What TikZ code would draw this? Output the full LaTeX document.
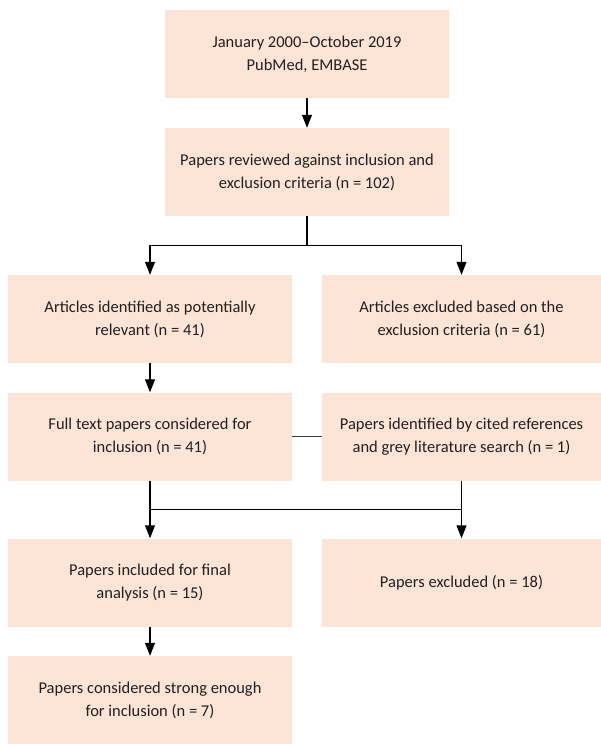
\documentclass[tikz,border=0pt]{standalone}
\usepackage{fontspec}
\setmainfont{Carlito}
\usepackage{xcolor}
\usetikzlibrary{arrows.meta,calc}
\definecolor{boxfill}{RGB}{252,228,214}
\definecolor{linkgray}{RGB}{60,60,60}
\definecolor{textdark}{RGB}{35,31,32}

\begin{document}
\begin{tikzpicture}[x=1pt,y=-1pt,
    box/.style={fill=boxfill, text=textdark, minimum width=284pt, minimum height=88pt, inner sep=0pt, align=center, font=\fontsize{16.5}{23}\selectfont},
    rbox/.style={box, minimum width=279pt},
    arr/.style={-{Triangle[width=10pt,length=13pt]}, line width=1.2pt}]
        \useasboundingbox (0,0) rectangle (601,744);

        % Boxes
        \node[box] (search) at (307,54) {January 2000--October 2019\\PubMed, EMBASE};
        \node[box] (reviewed) at (307,172) {Papers reviewed against inclusion and\\exclusion criteria (n = 102)};
        \node[box] (relevant) at (150,319) {Articles identified as potentially\\relevant (n = 41)};
        \node[rbox] (excluded) at (461.5,319) {Articles excluded based on the\\exclusion criteria (n = 61)};
        \node[box] (fulltext) at (150,436.5) {Full text papers considered for\\inclusion (n = 41)};
        \node[rbox] (cited) at (461.5,436.5) {Papers identified by cited references\\and grey literature search (n = 1)};
        \node[box] (final) at (150,582.5) {Papers included for final\\analysis (n = 15)};
        \node[rbox] (out) at (461.5,582.5) {Papers excluded (n = 18)};
        \node[box] (strong) at (150,700) {Papers considered strong enough\\for inclusion (n = 7)};

        % Split after review
        \coordinate (split) at ($(reviewed.south)!0.5!(reviewed.south |- relevant.north)$);
        \draw[line width=1.2pt] (reviewed.south) -- (split);
        \draw[arr] (split) -| (relevant.north);
        \draw[arr] (split) -| (excluded.north);

        % Straight arrows
        \draw[arr] (search) -- (reviewed);
        \draw[arr] (relevant) -- (fulltext);
        \draw[arr] (final) -- (strong);

        % Merge into final and excluded
        \draw[arr] (fulltext) -- (final);
        \draw[arr] (cited) -- (out);
        \coordinate (mergeL) at ($(fulltext.south)!0.5!(final.north)$);
        \coordinate (mergeR) at ($(cited.south)!0.5!(out.north)$);
        \draw[line width=1.2pt] (mergeL) -- (mergeR);

        % Link between the two middle boxes
        \draw[linkgray, line width=1pt] (fulltext) -- (cited);
\end{tikzpicture}
\end{document}
